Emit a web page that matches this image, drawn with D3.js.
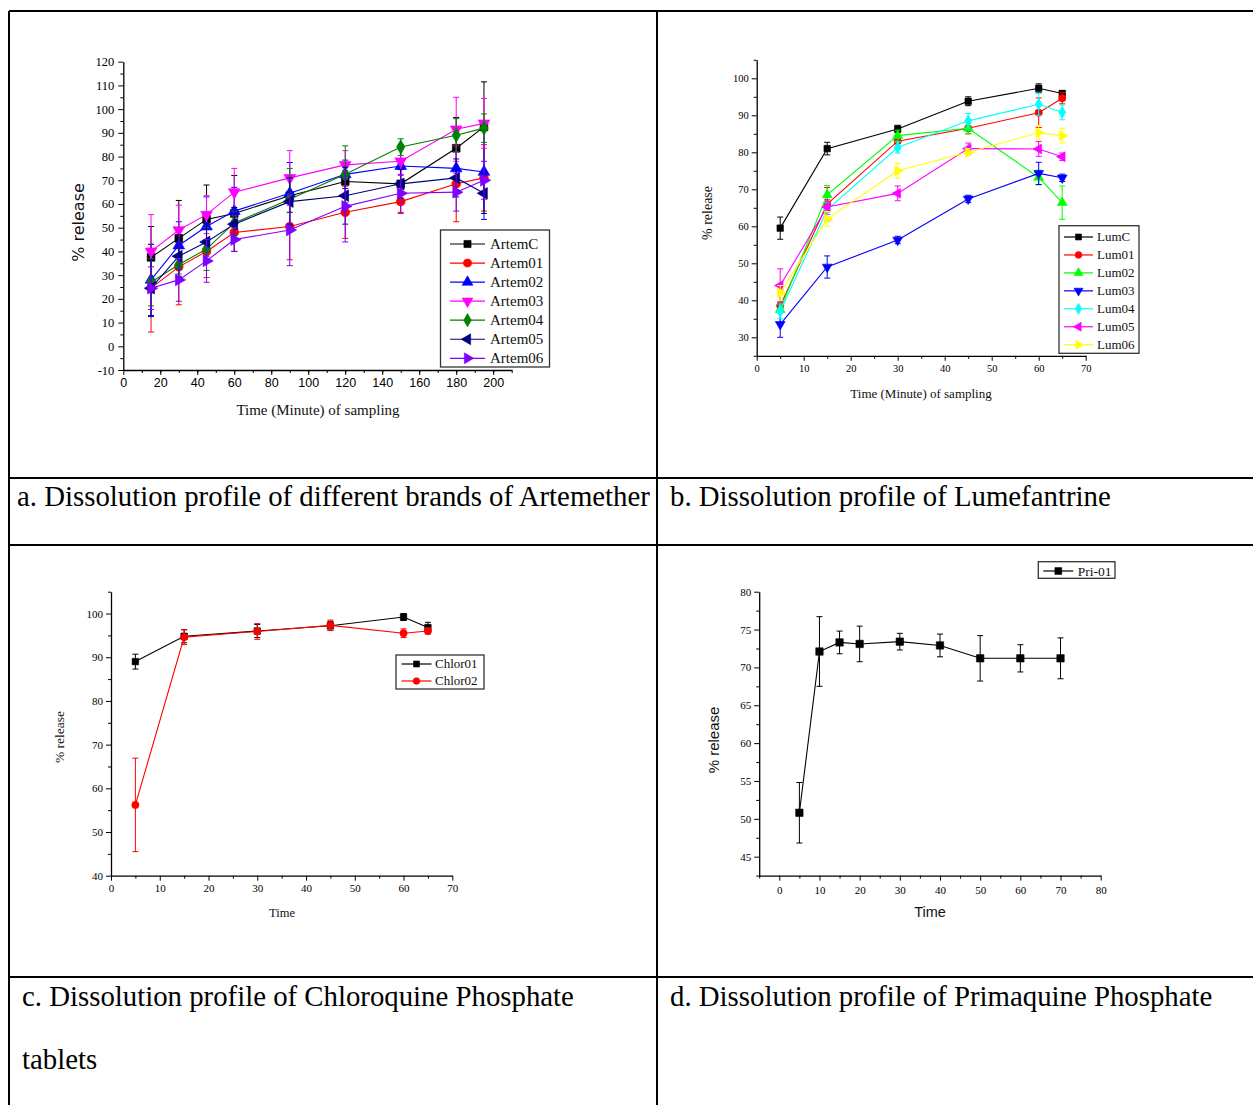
<!DOCTYPE html>
<html>
<head>
<meta charset="utf-8">
<script src="https://cdn.jsdelivr.net/npm/d3@7"></script>
<style>
  body { margin: 0; background: #fff; }
  svg { display: block; }
</style>
</head>
<body>
<svg id="fig"></svg>
<script>
// ---- data: a. Artemether ----
var artemTime = [15, 30, 45, 60, 90, 120, 150, 180, 195];
var artemC     = [37.5, 45.5, 53.5, 56, 63.5, 69.5, 68.5, 83.5, 92.5];
var artemCErr  = [13, 16, 14.5, 16, 7, 7, 8, 13, 19];
var artem01    = [24.5, 33.5, 40, 48, 50.5, 56.5, 61, 68.5, 71];
var artem01Err = [18.5, 16, 11, 8, 14, 11, 5, 16, 14];
var artem02    = [28, 42.5, 50.5, 57, 64.5, 72.5, 76, 75, 73.5];
var artem02Err = [15, 10, 12.5, 10, 13, 6, 9, 9, 20];
var artem03    = [40, 49, 55.5, 65, 71, 76.5, 78, 91.5, 94];
var artem03Err = [15.5, 10.5, 8, 10, 11.5, 6, 6, 13.5, 10.5];
var artem04    = [27, 34.5, 41, 52, 62, 72.5, 84, 89, 92];
var artem04Err = [10, 4, 9, 5, 13, 12, 3.5, 7, 6];
var artem05    = [24.5, 38, 44, 51.5, 61, 63.5, 68.5, 71, 64.5];
var artem05Err = [12, 9, 8, 7, 10, 12, 6, 8, 8.5];
var artem06    = [24.5, 28, 36, 45, 49, 59, 64.5, 65, 70];
var artem06Err = [9, 9, 9, 5, 15, 15, 8, 8, 8];
var artemNames = ["ArtemC", "Artem01", "Artem02", "Artem03", "Artem04", "Artem05", "Artem06"];

// ---- data: b. Lumefantrine ----
var lumTime = [5, 15, 30, 45, 60, 65];
var lumC     = [59.5, 81, 86.3, 93.8, 97.3, 95.9];
var lumCErr  = [3, 1.7, 1, 1.2, 1.2, 0.8];
var lum01    = [38.5, 66, 83, 86.5, 90.7, 94.6];
var lum01Err = [1, 4.5, 1.5, 1.5, 4, 1.5];
var lum02    = [37.5, 68.5, 84.5, 86.5, 73.2, 66.4];
var lum02Err = [4, 2.5, 1.5, 1.5, 2, 4.5];
var lum03    = [33.5, 49, 56.3, 67.4, 74.3, 73.1];
var lum03Err = [3.5, 3, 1, 1, 3, 1];
var lum04    = [37, 64.5, 81.3, 88.5, 93, 90.8];
var lum04Err = [2, 2, 1.5, 2, 3, 2];
var lum05    = [44, 65.2, 68.9, 81, 80.9, 78.8];
var lum05Err = [4.5, 2, 2, 1.5, 2, 1];
var lum06    = [42, 62, 75, 80, 85.3, 84.5];
var lum06Err = [2, 2, 2, 1, 2, 2];
var lumNames = ["LumC", "Lum01", "Lum02", "Lum03", "Lum04", "Lum05", "Lum06"];

// ---- data: c. Chloroquine ----
var chlorTime = [5, 15, 30, 45, 60, 65];
var chlor01    = [89, 94.8, 96, 97.2, 99.2, 96.8];
var chlor01Err = [1.7, 1.5, 1.5, 1, 0.8, 1.2];
var chlor02    = [56.2, 94.6, 95.9, 97.3, 95.5, 96];
var chlor02Err = [10.7, 1.7, 1.8, 1.2, 1, 0.7];
var chlorNames = ["Chlor01", "Chlor02"];

// ---- data: d. Primaquine ----
var priTime = [5, 10, 15, 20, 30, 40, 50, 60, 70];
var pri01    = [50.8, 72.1, 73.3, 73.1, 73.4, 72.9, 71.2, 71.2, 71.2];
var pri01Err = [4, 4.6, 1.5, 2.35, 1.1, 1.5, 3, 1.8, 2.7];
var priNames = ["Pri-01"];

var captions = [
  "a. Dissolution profile of different brands of Artemether",
  "b. Dissolution profile of Lumefantrine",
  "c. Dissolution profile of Chloroquine Phosphate",
  "tablets",
  "d. Dissolution profile of Primaquine Phosphate"
];

var W = 1253, H = 1105;
var serif = "'Liberation Serif', 'Times New Roman', serif";
var sans = "'Liberation Sans', Arial, sans-serif";

var svg = d3.select("#fig").attr("width", W).attr("height", H)
  .style("background", "#fff");

// symbol shapes: [d3 symbol, rotation]
var shapes = [
  [d3.symbolSquare, 0], [d3.symbolCircle, 0], [d3.symbolTriangle, 0],
  [d3.symbolTriangle, 180], [d3.symbolDiamond, 0], [d3.symbolTriangle, -90],
  [d3.symbolTriangle, 90]
];

function drawMarker(g, cx, cy, k, size, color) {
  g.append("path")
    .attr("d", d3.symbol().type(shapes[k][0]).size(size)())
    .attr("transform", "translate(" + cx + "," + cy + ") rotate(" + shapes[k][1] + ")")
    .attr("fill", color)
    .attr("stroke", color)
    .attr("stroke-width", 0.6);
}

function range(a, b, s) {
  var out = [];
  for (var v = a; v <= b + 1e-9; v += s) out.push(+v.toFixed(3));
  return out;
}

// plain hyphen for negatives, like the original
var plain = function (d) { return String(d); };

function drawPanel(p) {
  var g = svg.append("g");
  var x = d3.scaleLinear().domain(p.xDomain).range(p.xRange);
  var y = d3.scaleLinear().domain(p.yDomain).range(p.yRange);

  // minor ticks
  g.append("g").attr("transform", "translate(0," + p.yRange[0] + ")")
    .call(d3.axisBottom(x).tickValues(p.xMinor).tickSize(3).tickSizeOuter(0).tickFormat(""))
    .call(function (a) { a.select(".domain").remove(); });
  g.append("g").attr("transform", "translate(" + p.xRange[0] + ",0)")
    .call(d3.axisLeft(y).tickValues(p.yMinor).tickSize(3).tickSizeOuter(0).tickFormat(""))
    .call(function (a) { a.select(".domain").remove(); });

  // major axes
  var xa = g.append("g").attr("transform", "translate(0," + p.yRange[0] + ")")
    .call(d3.axisBottom(x).tickValues(p.xMajor).tickSize(5).tickSizeOuter(0)
      .tickFormat(plain).tickPadding(p.xPad || 3));
  xa.selectAll("text").attr("font-family", p.xTickFont).attr("font-size", p.xTickSize).attr("fill", "#000");
  var ya = g.append("g").attr("transform", "translate(" + p.xRange[0] + ",0)")
    .call(d3.axisLeft(y).tickValues(p.yMajor).tickSize(5).tickSizeOuter(0)
      .tickFormat(plain).tickPadding(p.yPad || 3));
  ya.selectAll("text").attr("font-family", p.yTickFont).attr("font-size", p.yTickSize).attr("fill", "#000");
  g.selectAll(".domain").attr("stroke", "#000").attr("stroke-width", 1.3);
  g.selectAll(".tick line").attr("stroke", "#000").attr("stroke-width", 1);

  // axis titles
  g.append("text").text(p.xTitle)
    .attr("x", p.xTitlePos[0]).attr("y", p.xTitlePos[1])
    .attr("text-anchor", "middle").attr("font-family", p.xTitleFont)
    .attr("font-size", p.xTitleSize).attr("fill", "#111");
  g.append("text").text("% release")
    .attr("transform", "translate(" + p.yTitlePos[0] + "," + p.yTitlePos[1] + ") rotate(-90)")
    .attr("text-anchor", "middle").attr("font-family", p.yTitleFont)
    .attr("font-size", p.yTitleSize).attr("fill", "#111");

  var line = d3.line().x(function (d) { return x(d[0]); }).y(function (d) { return y(d[1]); });

  p.series.forEach(function (s, k) {
    var pts = p.time.map(function (t, i) { return [t, s.values[i], s.err[i]]; });
    var sg = g.append("g");
    sg.append("path").datum(pts).attr("d", line)
      .attr("fill", "none").attr("stroke", s.color).attr("stroke-width", 1.1);
    pts.forEach(function (d) {
      var cx = x(d[0]), y1 = y(d[1] + d[2]), y2 = y(d[1] - d[2]);
      sg.append("line").attr("x1", cx).attr("x2", cx).attr("y1", y1).attr("y2", y2)
        .attr("stroke", s.color).attr("stroke-width", 1);
      [y1, y2].forEach(function (yy) {
        sg.append("line").attr("x1", cx - 3).attr("x2", cx + 3).attr("y1", yy).attr("y2", yy)
          .attr("stroke", s.color).attr("stroke-width", 1);
      });
      drawMarker(sg, cx, y(d[1]), s.shape, p.markerSize, s.color);
    });
  });

  // legend
  var L = p.legend;
  g.append("rect").attr("x", L.box[0]).attr("y", L.box[1])
    .attr("width", L.box[2]).attr("height", L.box[3])
    .attr("fill", "#fff").attr("stroke", "#333").attr("stroke-width", 1.3);
  p.series.forEach(function (s, k) {
    var ly = L.y0 + k * L.dy;
    g.append("line").attr("x1", L.x0).attr("x2", L.x1).attr("y1", ly).attr("y2", ly)
      .attr("stroke", s.color).attr("stroke-width", 1.2);
    drawMarker(g, (L.x0 + L.x1) / 2, ly, s.shape, p.markerSize * 0.85, s.color);
    g.append("text").text(s.name).attr("x", L.tx).attr("y", ly + L.fs * 0.34)
      .attr("font-family", serif).attr("font-size", L.fs).attr("fill", "#111");
  });
}

function makeSeries(names, vals, errs, colors) {
  return names.map(function (n, i) {
    return { name: n, values: vals[i], err: errs[i], color: colors[i], shape: i };
  });
}

// ---- panel a ----
drawPanel({
  time: artemTime,
  series: makeSeries(artemNames,
    [artemC, artem01, artem02, artem03, artem04, artem05, artem06],
    [artemCErr, artem01Err, artem02Err, artem03Err, artem04Err, artem05Err, artem06Err],
    ["#000000", "#ff0000", "#0000ff", "#ff00ff", "#008000", "#000080", "#8000ff"]),
  xDomain: [0, 210], xRange: [123.3, 511.7],
  yDomain: [-10, 120], yRange: [370, 61.7],
  xMajor: range(0, 200, 20), xMinor: range(10, 210, 10),
  yMajor: range(-10, 120, 10), yMinor: range(-5, 115, 10),
  xTickFont: sans, xTickSize: 12.5, yTickFont: serif, yTickSize: 12.5, yPad: 4,
  xTitle: "Time (Minute) of sampling", xTitlePos: [318, 415], xTitleFont: serif, xTitleSize: 15,
  yTitlePos: [84, 222.5], yTitleFont: "'DejaVu Sans', sans-serif", yTitleSize: 16,
  markerSize: 60,
  legend: { box: [440.5, 230, 109, 137], x0: 450, x1: 485, tx: 490, y0: 244, dy: 19.05, fs: 15 }
});

// ---- panel b ----
drawPanel({
  time: lumTime,
  series: makeSeries(lumNames,
    [lumC, lum01, lum02, lum03, lum04, lum05, lum06],
    [lumCErr, lum01Err, lum02Err, lum03Err, lum04Err, lum05Err, lum06Err],
    ["#000000", "#ff0000", "#00ff00", "#0000ff", "#00ffff", "#ff00ff", "#ffff00"]),
  xDomain: [0, 70], xRange: [756.7, 1085.7],
  yDomain: [25, 105], yRange: [355.8, 59.8],
  xMajor: range(0, 70, 10), xMinor: range(5, 65, 10),
  yMajor: range(30, 100, 10), yMinor: range(25, 105, 10),
  xTickFont: serif, xTickSize: 10.5, yTickFont: serif, yTickSize: 10.5, xPad: 4,
  xTitle: "Time (Minute) of sampling", xTitlePos: [921, 398], xTitleFont: serif, xTitleSize: 13,
  yTitlePos: [712, 213], yTitleFont: serif, yTitleSize: 14,
  markerSize: 42,
  legend: { box: [1059, 225.7, 80, 127.6], x0: 1064, x1: 1093, tx: 1097, y0: 237, dy: 17.95, fs: 13 }
});

// ---- panel c ----
drawPanel({
  time: chlorTime,
  series: makeSeries(chlorNames, [chlor01, chlor02], [chlor01Err, chlor02Err], ["#000000", "#ff0000"]),
  xDomain: [0, 70], xRange: [111, 452.3],
  yDomain: [40, 105], yRange: [875.7, 591.7],
  xMajor: range(0, 70, 10), xMinor: range(5, 65, 10),
  yMajor: range(40, 100, 10), yMinor: range(45, 105, 10),
  xTickFont: serif, xTickSize: 11, yTickFont: serif, yTickSize: 11, xPad: 4,
  xTitle: "Time", xTitlePos: [282, 917], xTitleFont: serif, xTitleSize: 12.5,
  yTitlePos: [64, 737], yTitleFont: serif, yTitleSize: 13.5,
  markerSize: 42,
  legend: { box: [396, 655, 88, 34], x0: 401.5, x1: 431.5, tx: 435, y0: 664, dy: 17, fs: 13 }
});

// ---- panel d ----
drawPanel({
  time: priTime,
  series: makeSeries(priNames, [pri01], [pri01Err], ["#000000"]),
  xDomain: [-5, 80], xRange: [759.2, 1100.7],
  yDomain: [42.5, 80], yRange: [875.6, 591.7],
  xMajor: range(0, 80, 10), xMinor: range(-5, 75, 10),
  yMajor: range(45, 80, 5), yMinor: range(42.5, 77.5, 2.5).filter(function (v) { return v % 5 !== 0; }),
  xTickFont: serif, xTickSize: 11, yTickFont: serif, yTickSize: 11, xPad: 6,
  xTitle: "Time", xTitlePos: [930, 917], xTitleFont: sans, xTitleSize: 14.5,
  yTitlePos: [719, 740], yTitleFont: sans, yTitleSize: 15,
  markerSize: 55,
  legend: { box: [1038.3, 561.7, 76.7, 16.6], x0: 1043.3, x1: 1073.3, tx: 1077.7, y0: 571, dy: 17, fs: 13.5 }
});

// ---- table frame and captions ----
var frame = svg.append("g").attr("stroke", "#000").attr("stroke-width", 2);
[[9, 11, W, 11], [9, 478, W, 478], [9, 545, W, 545], [9, 977, W, 977],
 [9, 11, 9, H], [657, 11, 657, H]].forEach(function (l) {
  frame.append("line").attr("x1", l[0]).attr("y1", l[1]).attr("x2", l[2]).attr("y2", l[3]);
});

var capPos = [[17, 506], [670, 506], [22, 1006], [22, 1069], [670, 1006]];
captions.forEach(function (c, i) {
  svg.append("text").text(c).attr("x", capPos[i][0]).attr("y", capPos[i][1])
    .attr("font-family", serif).attr("font-size", 28.8).attr("fill", "#000");
});
</script>
</body>
</html>
